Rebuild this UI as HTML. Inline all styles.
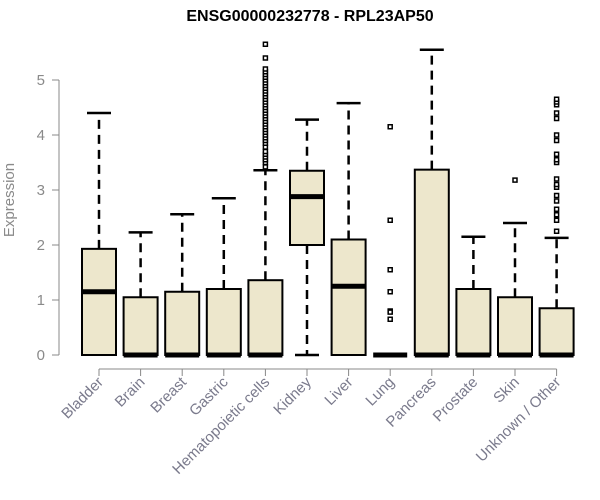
<!DOCTYPE html>
<html><head><meta charset="utf-8"><style>body{margin:0;background:#fff}svg{display:block;font-family:"Liberation Sans",Arial,sans-serif}</style></head>
<body>
<svg id="chart" width="600" height="500">
<text x="310" y="21" text-anchor="middle" font-size="16" font-weight="bold">ENSG00000232778 - RPL23AP50</text>
<text transform="translate(14,200) rotate(-90)" text-anchor="middle" font-size="15" fill="#8a8a8a">Expression</text>
<g id="axes"></g><g id="boxes"></g>
</svg>
<script>
const categories=["Bladder","Brain","Breast","Gastric","Hematopoietic cells","Kidney","Liver","Lung","Pancreas","Prostate","Skin","Unknown / Other"];
const lowWhisker=[0,0,0,0,0,0,0,0,0,0,0,0];
const q1=[0,0,0,0,0,2.0,0,0,0,0,0,0];
const median=[1.15,0,0,0,0,2.88,1.25,0,0,0,0,0];
const q3=[1.93,1.05,1.15,1.2,1.36,3.35,2.1,0,3.37,1.2,1.05,0.85];
const highWhisker=[4.4,2.23,2.56,2.85,3.36,4.28,4.58,0,5.55,2.15,2.4,2.13];
const outliers=[[],[],[],[],[3.42,3.5,3.55,3.6,3.65,3.7,3.78,3.85,3.9,3.95,4.0,4.05,4.1,4.15,4.2,4.25,4.3,4.35,4.4,4.45,4.5,4.55,4.6,4.65,4.7,4.75,4.8,4.85,4.9,4.95,5.0,5.05,5.1,5.15,5.2,5.4,5.65],[],[],[4.15,2.45,1.55,1.15,0.8,0.78,0.65],[],[],[3.18],[2.25,2.45,2.55,2.65,2.8,2.9,3.05,3.1,3.2,3.5,3.55,3.65,3.9,4.0,4.3,4.4,4.55,4.6,4.65]];
const yTicks=[0,1,2,3,4,5];
const NS="http://www.w3.org/2000/svg";
const y=v=>355-v*55;
const x=i=>99+i*41.6;
function mk(t,a,p){const e=document.createElementNS(NS,t);for(const k in a)e.setAttribute(k,a[k]);p.appendChild(e);return e;}
const ax=document.getElementById('axes'),bx=document.getElementById('boxes');
const ya=mk('line',{x1:59,x2:59,y1:y(0),y2:y(5),stroke:'#888'},ax);


yTicks.forEach(t=>{mk('line',{x1:52,x2:59,y1:y(t),y2:y(t),stroke:'#888'},ax);
const tx=mk('text',{x:45,y:y(t)+5,'text-anchor':'end','font-size':15,fill:'#8a8a8a'},ax);tx.textContent=t;

});
const xa=mk('line',{x1:x(0),x2:x(11),y1:369,y2:369,stroke:'#888'},ax);


categories.forEach((c,i)=>{const cx=x(i);
mk('line',{x1:cx,x2:cx,y1:369,y2:376,stroke:'#888'},ax);
const tx=mk('text',{transform:`translate(${cx+5},383) rotate(-45)`,'text-anchor':'end','font-size':15,fill:'#7a7a8c'},ax);tx.textContent=c;


const g=mk('g',{},bx);


const w=17;
if(highWhisker[i]>q3[i]){mk('line',{x1:cx,x2:cx,y1:y(q3[i]),y2:y(highWhisker[i]),stroke:'#000','stroke-width':2.5,'stroke-dasharray':'9,6'},g);
mk('line',{x1:cx-12,x2:cx+12,y1:y(highWhisker[i]),y2:y(highWhisker[i]),stroke:'#000','stroke-width':2.5},g);}
if(q1[i]>lowWhisker[i]){mk('line',{x1:cx,x2:cx,y1:y(q1[i]),y2:y(lowWhisker[i]),stroke:'#000','stroke-width':2.5,'stroke-dasharray':'9,6'},g);
mk('line',{x1:cx-12,x2:cx+12,y1:y(lowWhisker[i]),y2:y(lowWhisker[i]),stroke:'#000','stroke-width':2.5},g);}
if(q3[i]>q1[i])mk('rect',{x:cx-w,y:y(q3[i]),width:2*w,height:y(q1[i])-y(q3[i]),fill:'#ede7cc',stroke:'#000','stroke-width':2},g);
mk('line',{x1:cx-w,x2:cx+w,y1:y(median[i]),y2:y(median[i]),stroke:'#000','stroke-width':5},g);
outliers[i].forEach(v=>mk('rect',{x:cx-2,y:y(v)-2,width:4,height:4,fill:'#fff',stroke:'#000','stroke-width':1.5},g));
});
</script>
</body></html>
